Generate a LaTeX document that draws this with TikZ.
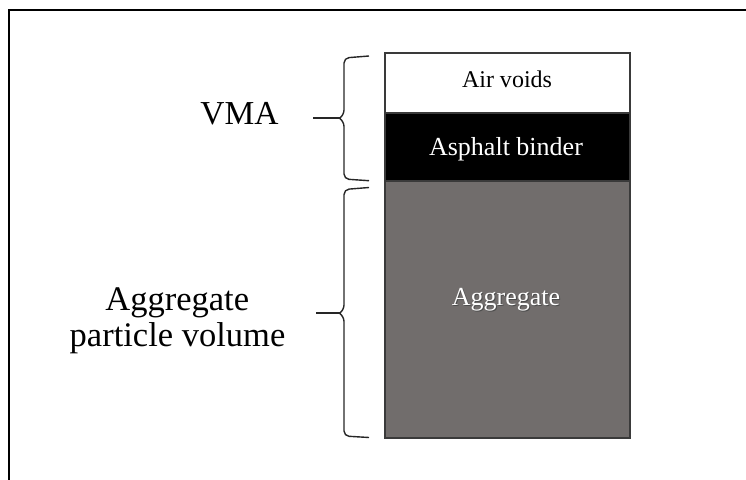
\documentclass[tikz,border=0pt]{standalone}
\usepackage{fontspec}
\setmainfont{Liberation Serif}
\definecolor{aggfill}{HTML}{716D6C}
\definecolor{boxedge}{HTML}{3A3A3A}
\begin{document}
\begin{tikzpicture}[x=1pt,y=-1pt,
  frameline/.style={line width=2pt,black},
  layer/.style={draw=boxedge,line width=1.6pt},
  bracepath/.style={line width=1.4pt,black!85,rounded corners=5pt},
  tipline/.style={line width=1.8pt,black!85},
  lbl/.style={inner sep=0pt,anchor=base}]
\useasboundingbox (0,0) rectangle (746,479);
% outer frame (cropped at right and bottom)
\draw[frameline] (8.5,485) -- (8.5,10) -- (752,10);
% layers
\path[layer,fill=white] (385,53) rectangle (630,113);
\path[layer,fill=black] (385,113) rectangle (630,181);
\path[layer,fill=aggfill] (385,181) rectangle (630,438);
\node[lbl,font=\fontsize{24}{28}\selectfont] (air) at (507,87) {Air voids};
\node[lbl,font=\fontsize{26}{30}\selectfont,text=white] (bind) at (506,155) {Asphalt binder};
\node[lbl,font=\fontsize{26}{30}\selectfont,text=black!70] at (507,306) {Aggregate};
\node[lbl,font=\fontsize{26}{30}\selectfont,text=white] (agg) at (506,305) {Aggregate};
% braces
\coordinate (vmatip) at (313,118.3);
\coordinate (aggtip) at (316,313.3);
\draw[bracepath] (369,56) -- (344,58) -- (344,115) -- (339.5,118.3);
\draw[bracepath] (339.5,118.3) -- (344,121.5) -- (344,179) -- (369,180.7);
\draw[tipline] (vmatip) -- (341,118.3);
\draw[bracepath] (369,187.5) -- (344,189.5) -- (344,310) -- (339.5,313.3);
\draw[bracepath] (339.5,313.3) -- (344,316.5) -- (344,436) -- (369,437.5);
\draw[tipline] (aggtip) -- (341,313.3);
% labels
\node[lbl,font=\fontsize{33.5}{37}\selectfont] (vma) at (239.4,124.3) {VMA};
\node[lbl,font=\fontsize{34.5}{37}\selectfont] (agglabel1) at (177.3,310) {Aggregate};
\node[lbl,font=\fontsize{34.5}{37}\selectfont] (agglabel2) at (177.5,346.7) {particle volume};
\end{tikzpicture}
\end{document}
